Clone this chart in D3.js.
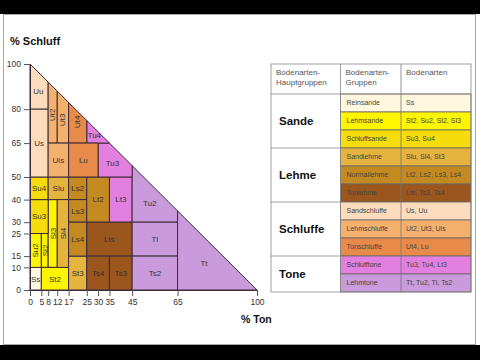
<!DOCTYPE html>
<html><head><meta charset="utf-8">
<script src="https://cdn.jsdelivr.net/npm/d3@7"></script>
<style>body{margin:0;background:#fff}svg{display:block}text{font-family:"Liberation Sans",Arial,sans-serif}</style>
</head><body>
<svg id="c" width="480" height="360"></svg>
<script>
// ---- data ----
const classes    = ["Ss","Su2","Sl2","Sl3","St2","Su3","Su4","Slu","Sl4","St3","Ls2","Ls3","Ls4","Lt2","Lt3","Lts","Ts4","Ts3","Tu2","Tl","Ts2","Tt","Tu3","Tu4","Uu","Us","Ut2","Ut3","Ut4","Uls","Lu"];
const tonMin     = [0, 0, 5, 8, 5, 0, 0, 8, 12,17,17,17,17,25,35,25,25,35,45,45,45,65,30,25,0, 0, 8, 12,17,8, 17];
const tonMax     = [5, 5, 8, 12,17,8, 8, 17,17,25,25,25,25,35,45,45,35,45,65,65,65,100,45,35,8, 8, 12,17,25,17,30];
const schluffMin = [0, 10,10,10,0, 25,40,40,10,0, 40,30,15,30,30,15,0, 0, 30,15,0, 0, 50,65,80,50,65,65,65,50,50];
const schluffMax = [10,25,25,40,10,40,50,50,40,15,50,40,30,50,50,30,15,15,55,30,15,35,65,75,100,80,92,88,83,65,65];
const classGroup = ["Reinsande","Lehmsande","Lehmsande","Lehmsande","Lehmsande","Schluffsande","Schluffsande","Sandlehme","Sandlehme","Sandlehme","Normallehme","Normallehme","Normallehme","Normallehme","Schlufftone","Tonlehme","Tonlehme","Tonlehme","Lehmtone","Lehmtone","Lehmtone","Lehmtone","Schlufftone","Schlufftone","Sandschluffe","Sandschluffe","Lehmschluffe","Lehmschluffe","Tonschluffe","Lehmschluffe","Tonschluffe"];

const groups       = ["Reinsande","Lehmsande","Schluffsande","Sandlehme","Normallehme","Tonlehme","Sandschluffe","Lehmschluffe","Tonschluffe","Schlufftone","Lehmtone"];
const groupMembers = ["Ss","St2, Su2, Sl2, Sl3","Su3, Su4","Slu, Sl4, St3","Lt2, Ls2, Ls3, Ls4","Lts, Ts3, Ts4","Us, Uu","Ut2, Ut3, Uls","Ut4, Lu","Tu3, Tu4, Lt3","Tt, Tu2, Tl, Ts2"];
const mainGroups     = ["Sande","Lehme","Schluffe","Tone"];
const mainGroupSizes = [3,3,3,2];

const xTicks = [0,5,8,12,17,25,30,35,45,65,100];
const yTicks = [0,10,15,25,30,40,50,65,80,100];

// ---- styles ----
const palette = ["#fff8de","#fff500","#f6dc0c","#e5b43f","#c38a22","#9a561d","#fddbbd","#f4b16e","#e88a49","#e27fdf","#c99bdc"];
const color = d3.scaleOrdinal(groups, palette);
const verticalLabels = ["Su2","Sl2","Sl3","Sl4","Ut2","Ut3","Ut4"];

const svg = d3.select("#c");
svg.append("rect").attr("x",0).attr("y",0).attr("width",480).attr("height",14).attr("fill","#000");
svg.append("rect").attr("x",0).attr("y",345).attr("width",480).attr("height",15).attr("fill","#000");
svg.append("rect").attr("x",3.5).attr("y",14.5).attr("width",472).attr("height",330).attr("fill","#fff").attr("stroke","#a8a8a8");

const x = d3.scaleLinear().domain([0,100]).range([30,257]);
const y = d3.scaleLinear().domain([0,100]).range([290,64]);

// clip rectangle by T+U<=100
function clipPoly(pts){
  const inside = p => p[0]+p[1] <= 100 + 1e-9;
  const out = [];
  for (let i=0;i<pts.length;i++){
    const a = pts[i], b = pts[(i+1)%pts.length];
    const ia = inside(a), ib = inside(b);
    if (ia) out.push(a);
    if (ia !== ib){
      const fa = a[0]+a[1]-100, fb = b[0]+b[1]-100, t = fa/(fa-fb);
      out.push([a[0]+t*(b[0]-a[0]), a[1]+t*(b[1]-a[1])]);
    }
  }
  return out;
}

const regions = classes.map((c,i)=>{
  const poly = clipPoly([[tonMin[i],schluffMin[i]],[tonMax[i],schluffMin[i]],[tonMax[i],schluffMax[i]],[tonMin[i],schluffMax[i]]]);
  const px = poly.map(p=>[x(p[0]),y(p[1])]);
  return {name:c, group:classGroup[i], px, centroid:d3.polygonCentroid(px)};
});

const g = svg.append("g");
g.selectAll("path.reg").data(regions).join("path")
  .attr("class","reg")
  .attr("d",d=>"M"+d.px.map(p=>p.join(",")).join("L")+"Z")
  .attr("fill",d=>color(d.group))
  .attr("stroke","#3d2a38").attr("stroke-width",1);

g.selectAll("text.lab").data(regions).join("text")
  .attr("class","lab")
  .attr("transform",d=>{
    let [cx,cy]=d.centroid; if(d.name==="Ut4") cy-=5;
    return `translate(${cx},${cy})` + (verticalLabels.includes(d.name)?" rotate(-90)":"");
  })
  .attr("text-anchor","middle").attr("dy","0.35em")
  .attr("font-size","8px").attr("fill","#333")
  .text(d=>d.name);

// axes
const ax = svg.append("g").attr("transform","translate(0,290)")
  .call(d3.axisBottom(x).tickValues(xTicks).tickSize(6).tickSizeOuter(0));
const ay = svg.append("g").attr("transform","translate(30,0)")
  .call(d3.axisLeft(y).tickValues(yTicks).tickSize(6).tickSizeOuter(0));
[ax,ay].forEach(a=>{
  a.select(".domain").attr("stroke","#3d2a38");
  a.selectAll(".tick line").attr("stroke","#555");
  a.selectAll(".tick text").attr("font-size","8.5px").attr("fill","#333").attr("font-family","'Liberation Sans',Arial,sans-serif");
});

svg.append("text").attr("x",10).attr("y",45).attr("font-size","11px").attr("font-weight","bold").attr("fill","#111").text("% Schluff");
svg.append("text").attr("x",241).attr("y",323).attr("font-size","10.5px").attr("font-weight","bold").attr("fill","#111").text("% Ton");

// ---- table ----
const tx = [271,340.5,401,471];
const tTop = 64, headH = 30, rowH = 18;
const tb = svg.append("g");
const rowY = i => tTop + headH + i*rowH;
const tBottom = rowY(groups.length);

tb.selectAll("rect.row").data(groups).join("rect")
  .attr("class","row")
  .attr("x",tx[1]).attr("y",(d,i)=>rowY(i))
  .attr("width",tx[3]-tx[1]).attr("height",rowH)
  .attr("fill",d=>color(d)).attr("stroke","#666").attr("stroke-width",0.8);
tb.append("line").attr("x1",tx[2]).attr("x2",tx[2]).attr("y1",tTop).attr("y2",tBottom).attr("stroke","#777").attr("stroke-width",0.8);
tb.append("line").attr("x1",tx[1]).attr("x2",tx[1]).attr("y1",tTop).attr("y2",tBottom).attr("stroke","#888").attr("stroke-width",0.8);
tb.append("line").attr("x1",tx[0]).attr("x2",tx[3]).attr("y1",tTop+headH).attr("y2",tTop+headH).attr("stroke","#888").attr("stroke-width",0.8);
tb.append("rect").attr("x",tx[0]).attr("y",tTop).attr("width",tx[3]-tx[0]).attr("height",tBottom-tTop).attr("fill","none").attr("stroke","#888").attr("stroke-width",0.8);

tb.selectAll("text.gn").data(groups).join("text").attr("class","gn")
  .attr("x",tx[1]+6).attr("y",(d,i)=>rowY(i)+rowH/2).attr("dy","0.35em")
  .attr("font-size","7px").attr("fill","#444").text(d=>d);
tb.selectAll("text.gm").data(groupMembers).join("text").attr("class","gm")
  .attr("x",tx[2]+5).attr("y",(d,i)=>rowY(i)+rowH/2).attr("dy","0.35em")
  .attr("font-size","7px").attr("fill","#444").text(d=>d);

let acc = 0;
mainGroups.forEach((m,k)=>{
  const y0 = rowY(acc), y1 = rowY(acc+mainGroupSizes[k]);
  if (k>0) tb.append("line").attr("x1",tx[0]).attr("x2",tx[1]).attr("y1",y0).attr("y2",y0).attr("stroke","#888").attr("stroke-width",0.8);
  tb.append("text").attr("x",tx[0]+8).attr("y",(y0+y1)/2).attr("dy","0.35em")
    .attr("font-size","11.5px").attr("font-weight","bold").attr("fill","#111").text(m);
  acc += mainGroupSizes[k];
});

const headers = [["Bodenarten-","Hauptgruppen"],["Bodenarten-","Gruppen"],["Bodenarten"]];
headers.forEach((h,j)=>{
  const t = tb.append("text").attr("x",tx[j]+5).attr("y",tTop+11).attr("font-size","8px").attr("fill","#555");
  h.forEach((line,k)=>t.append("tspan").attr("x",tx[j]+5).attr("dy",k?10:0).text(line));
});
</script>
</body></html>
